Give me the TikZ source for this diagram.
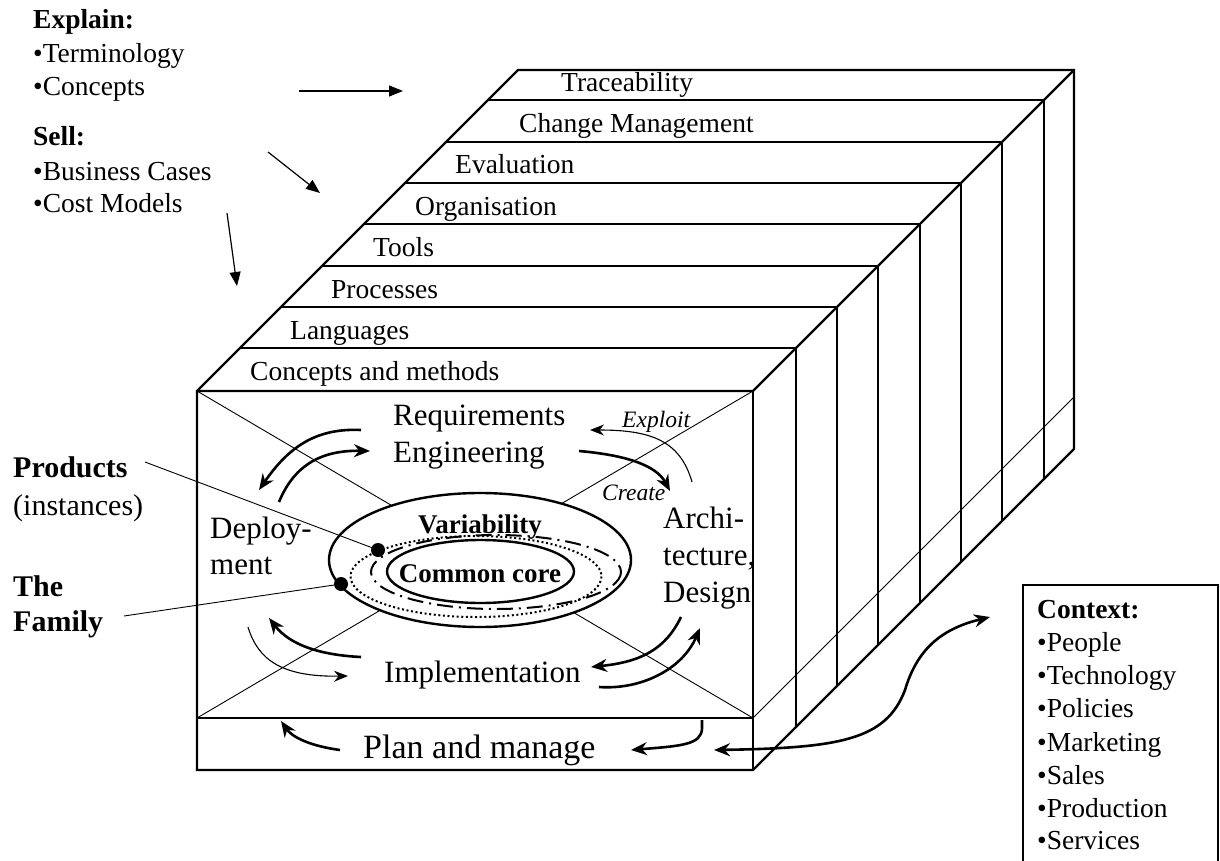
\documentclass[tikz,border=0pt]{standalone}
\usepackage{fontspec}
\setmainfont{Liberation Serif}
\usetikzlibrary{arrows.meta}
\begin{document}
\begin{tikzpicture}[x=1pt,y=-1pt,
  edgeline/.style={line width=2.4pt, line join=miter},
  stripline/.style={line width=1.2pt},
  thinline/.style={line width=0.9pt},
  bigarrow/.style={line width=2.6pt, -{Stealth[length=16pt,width=13pt]}},
  smallarrow/.style={line width=1.1pt, -{Stealth[length=14pt,width=11pt]}},
  straightarrow/.style={line width=1.2pt, -{Triangle[length=14pt,width=11pt]}},
  lbl/.style={inner sep=0pt, anchor=base west, font=\fontsize{27.5}{33}\selectfont},
  blbl/.style={inner sep=0pt, anchor=base west, font=\fontsize{27.5}{33}\selectfont\bfseries},
  midlbl/.style={inner sep=0pt, anchor=base west, font=\fontsize{31}{37}\selectfont},
  planlbl/.style={inner sep=0pt, anchor=base west, font=\fontsize{34}{40}\selectfont},
  itlbl/.style={inner sep=0pt, anchor=base west, font=\fontsize{23.5}{28}\selectfont\itshape},
  sidelbl/.style={inner sep=0pt, anchor=base west, font=\fontsize{30}{36}\selectfont},
  bsidelbl/.style={inner sep=0pt, anchor=base west, font=\fontsize{30}{36}\selectfont\bfseries},
  corelbl/.style={inner sep=0pt, anchor=base, font=\fontsize{27}{32}\selectfont\bfseries},
]
\useasboundingbox (0,0) rectangle (1220,861);
\clip (0,0) rectangle (1220,861);

% ---------- box corners ----------
\coordinate (TL) at (518,70);
\coordinate (TR) at (1074,70);
\coordinate (FTL) at (197,391);
\coordinate (FTR) at (753,391);
\coordinate (FBL) at (197,770);
\coordinate (FBR) at (753,770);
\coordinate (RBR) at (1074,449);
\coordinate (SL) at (197,718);
\coordinate (SR) at (753,718);
\coordinate (SRR) at (1074,397);

% ---------- strips of the top face and right face ----------
\foreach \d in {30,72,113,154,196,237,278} {
  \draw[stripline] (518-\d,70+\d) -- (1074-\d,70+\d) -- (1074-\d,449+\d);
}

% ---------- front face ----------
\draw[stripline] (SL) -- (SR);
\draw[thinline] (SR) -- (SRR);
\draw[thinline] (FTL) -- (SR);
\draw[thinline] (FTR) -- (SL);

% outline
\draw[edgeline] (FTL) -- (TL) -- (TR) -- (RBR) -- (FBR) -- (FBL) -- cycle;
\draw[edgeline] (FTL) -- (FTR) -- (TR);
\draw[edgeline] (FTR) -- (FBR);

% ---------- ellipses ----------
\draw[line width=2.4pt, fill=white] (480,560) ellipse [x radius=151, y radius=67];
\draw[line width=2pt, dash pattern=on 2pt off 2.6pt] (476,576.5) ellipse [x radius=125.5, y radius=40.5];
\draw[line width=2pt, dash pattern=on 16pt off 6pt on 2pt off 6pt] (496,572) ellipse [x radius=125, y radius=37];
\draw[line width=2.4pt] (480.5,571.5) ellipse [x radius=93.5, y radius=31.5];

% ---------- products / family pointers ----------
\node[bsidelbl] (prod) at (13,477) {Products};
\node[sidelbl] (inst) at (13,515) {(instances)};
\node[bsidelbl] (the) at (13,596) {The};
\node[bsidelbl] (fam) at (13,631) {Family};
\coordinate (prodS) at (145,462);
\coordinate (famS) at (124,616);
\fill (378,550) circle [radius=7] coordinate (prodDot);
\fill (341,584) circle [radius=7] coordinate (famDot);
\coordinate (pd) at (378,550);
\coordinate (fd) at (341,584);
\draw[thinline] (prodS) -- (pd);
\draw[thinline] (famS) -- (fd);

\node[corelbl] (var) at (480,533) {Variability};
\node[corelbl] (core) at (480,582) {Common core};

% ---------- strip labels ----------
\node[lbl] (trace) at (561,92) {Traceability};
\node[lbl] (chg) at (519,133) {Change Management};
\node[lbl] (eval) at (455,174) {Evaluation};
\node[lbl] (org) at (415,215) {Organisation};
\node[lbl] (tools) at (373,256) {Tools};
\node[lbl] (proc) at (331,298) {Processes};
\node[lbl] (lang) at (290,339) {Languages};
\node[lbl] (cm) at (250,380) {Concepts and methods};

% ---------- left texts ----------
\node[blbl] (explain) at (33,29) {Explain:};
\node[lbl] (term) at (33,63) {•Terminology};
\node[lbl] (conc) at (33,96) {•Concepts};
\node[blbl] (sell) at (33,146) {Sell:};
\node[lbl] (bcase) at (33,181) {•Business Cases};
\node[lbl] (cost) at (33,212) {•Cost Models};

\coordinate (a1s) at (299,91);  \coordinate (a1e) at (403,91);
\coordinate (a2s) at (268,152); \coordinate (a2e) at (320,193);
\coordinate (a3s) at (227,213); \coordinate (a3e) at (237,286);
\draw[straightarrow] (a1s) -- (a1e);
\draw[straightarrow] (a2s) -- (a2e);
\draw[straightarrow] (a3s) -- (a3e);

% ---------- front face labels ----------
\node[midlbl] (req) at (393,425) {Requirements};
\node[midlbl] (eng) at (393,462) {Engineering};
\node[midlbl] (dep1) at (210,538) {Deploy-};
\node[midlbl] (dep2) at (210,574) {ment};
\node[midlbl] (arc1) at (663,528) {Archi-};
\node[midlbl] (arc2) at (663,565) {tecture,};
\node[midlbl] (arc3) at (663,602) {Design};
\node[midlbl] (impl) at (384,682) {Implementation};
\node[planlbl] (plan) at (363,758) {Plan and manage};
\node[itlbl] (exploit) at (622,427) {Exploit};
\node[itlbl] (create) at (602,500) {Create};

% ---------- cycle arrows ----------
\coordinate (r2dS) at (361,430); \coordinate (r2dE) at (259,490);
\coordinate (d2rS) at (279,502); \coordinate (d2rE) at (370,451);
\coordinate (r2aS) at (579,451); \coordinate (r2aE) at (670,491);
\coordinate (a2rS) at (692,482); \coordinate (a2rE) at (590,430);
\coordinate (a2iS) at (681,617); \coordinate (a2iE) at (591,667);
\coordinate (i2aS) at (599,687); \coordinate (i2aE) at (700,628);
\coordinate (i2dS) at (361,657); \coordinate (i2dE) at (269,618);
\coordinate (d2iS) at (248,627); \coordinate (d2iE) at (348,676);
\draw[bigarrow] (r2dS) .. controls (318,428) and (290,445) .. (r2dE);
\draw[bigarrow] (d2rS) .. controls (293,468) and (318,450) .. (d2rE);
\draw[bigarrow] (r2aS) .. controls (625,455) and (656,465) .. (r2aE);
\draw[smallarrow] (a2rS) .. controls (680,440) and (650,430) .. (a2rE);
\draw[bigarrow] (a2iS) .. controls (665,650) and (640,662) .. (a2iE);
\draw[bigarrow] (i2aS) .. controls (640,690) and (682,670) .. (i2aE);
\draw[bigarrow] (i2dS) .. controls (320,655) and (290,645) .. (i2dE);
\draw[smallarrow] (d2iS) .. controls (258,660) and (282,677) .. (d2iE);

% ---------- plan and manage arrows ----------
\coordinate (p1S) at (340,750); \coordinate (p1E) at (281,721);
\coordinate (p2S) at (702,720); \coordinate (p2E) at (631,750);
\draw[bigarrow] (p1S) .. controls (310,746) and (292,737) .. (p1E);
\draw[bigarrow] (p2S) -- (702,728) .. controls (702,745) and (680,746) .. (p2E);

% ---------- context ----------
\draw[line width=1.3pt] (1023,585) rectangle (1218,890);
\node[blbl] (ctx) at (1037,618) {Context:};
\node[lbl] (c1) at (1037,651) {•People};
\node[lbl] (c2) at (1037,684) {•Technology};
\node[lbl] (c3) at (1037,717) {•Policies};
\node[lbl] (c4) at (1037,751) {•Marketing};
\node[lbl] (c5) at (1037,784) {•Sales};
\node[lbl] (c6) at (1037,817) {•Production};
\node[lbl] (c7) at (1037,849) {•Services};
\coordinate (ctxL) at (714,750);
\coordinate (ctxR) at (990,617);
\draw[line width=2.6pt, {Stealth[length=16pt,width=13pt]}-{Stealth[length=16pt,width=13pt]}]
  (ctxL) .. controls (840,748) and (886,740) .. (905,690) .. controls (918,646) and (945,628) .. (ctxR);
\end{tikzpicture}
\end{document}
